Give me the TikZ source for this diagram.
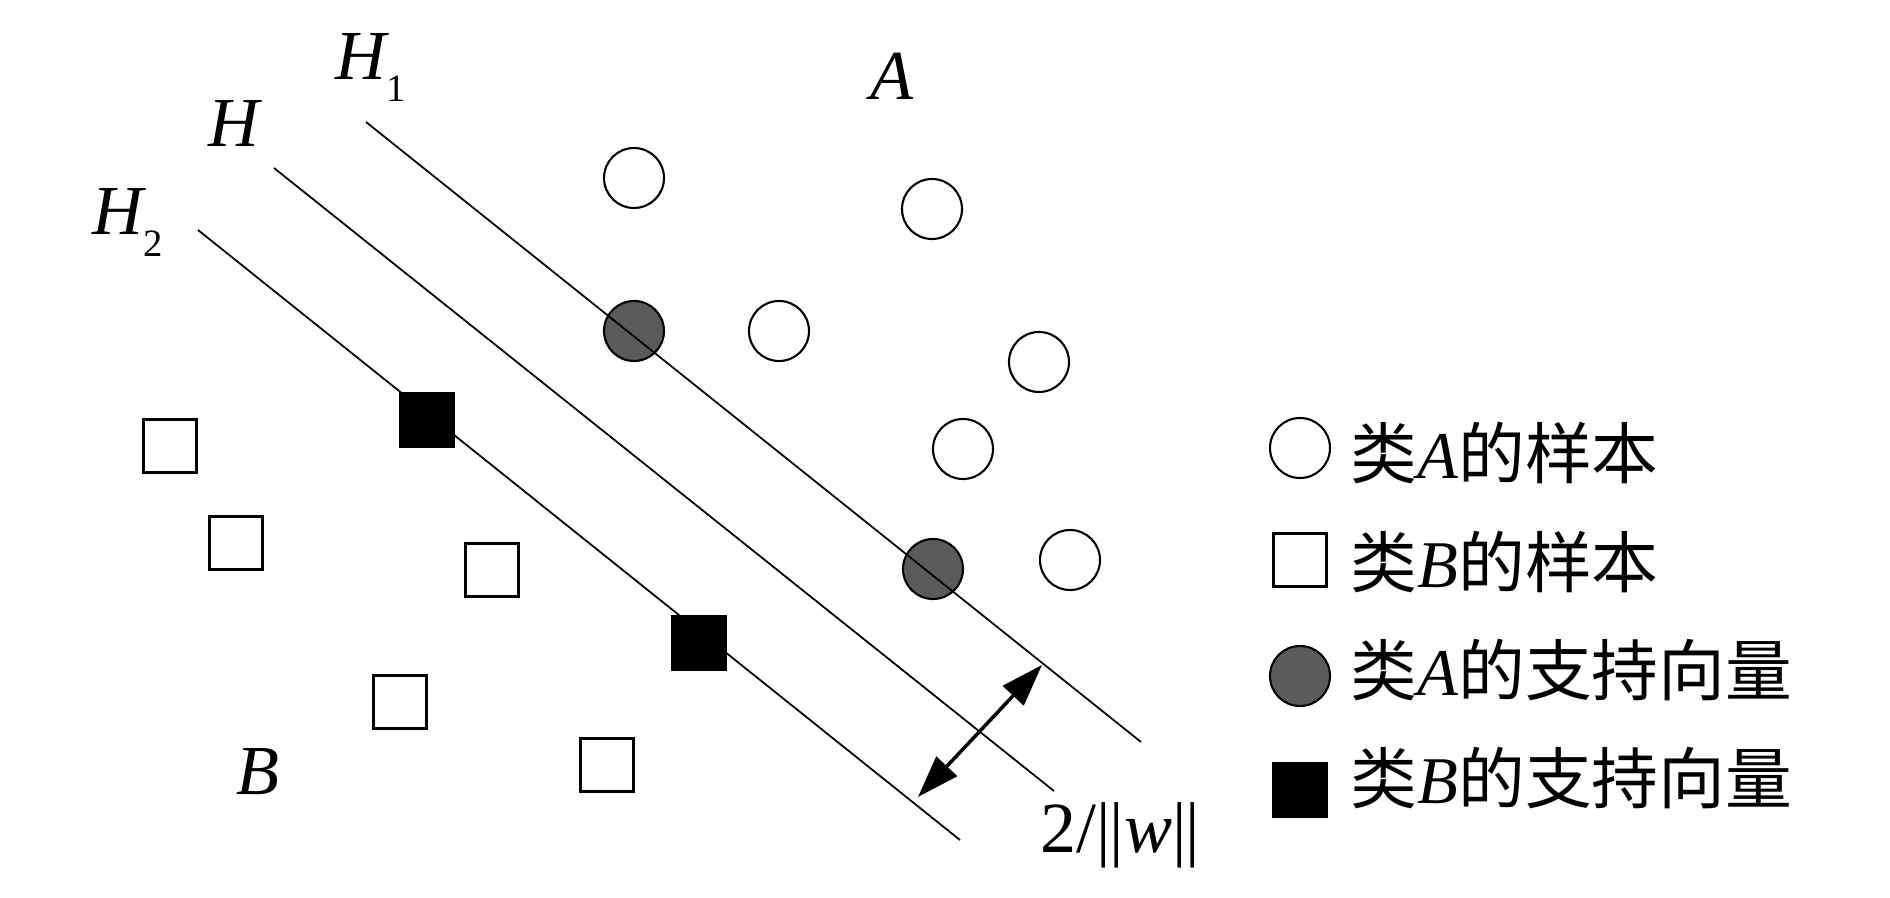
\documentclass[tikz,border=0pt]{standalone}
\usepackage{fontspec}
\setmainfont{Liberation Serif}
\newfontfamily\cjk{Noto Sans CJK SC}
\usetikzlibrary{arrows.meta}
\definecolor{svgray}{RGB}{90,90,90}
\newcommand\romit[1]{{\rmfamily\itshape #1}}
\newcommand\subdn[1]{\raisebox{-0.3em}{\upshape\fontsize{11}{12}\selectfont #1}}
\tikzset{
  samp/.style={circle, draw, line width=0.6pt, minimum size=0.60cm, inner sep=0pt, fill=white},
  sv/.style={samp, fill=svgray},
  sqr/.style={rectangle, draw, line width=0.6pt, minimum width=0.53cm, minimum height=0.53cm, inner sep=0pt, fill=white},
  sqsv/.style={sqr, fill=black},
  hyp/.style={line width=0.5pt},
  lab/.style={font=\fontsize{20}{24}\selectfont\itshape, inner sep=0pt, anchor=base west},
  leg/.style={font=\fontsize{19}{23}\selectfont\cjk, inner sep=0pt, anchor=base west},
  marg/.style={line width=1pt, {Triangle[length=12pt,width=8pt]}-{Triangle[length=12pt,width=8pt]}}
}
\begin{document}
\begin{tikzpicture}
\useasboundingbox (0,0) rectangle (18.90,-8.98);
% samples of class A
\node[samp] (a1) at (6.34,-1.78) {};
\node[samp] (a2) at (9.32,-2.09) {};
\node[samp] (a3) at (7.79,-3.31) {};
\node[samp] (a4) at (10.39,-3.62) {};
\node[samp] (a5) at (9.63,-4.49) {};
\node[samp] (a6) at (10.70,-5.60) {};
\node[sv] (sa1) at (6.34,-3.31) {};
\node[sv] (sa2) at (9.33,-5.69) {};
% samples of class B
\node[sqr] (b1) at (1.70,-4.46) {};
\node[sqr] (b2) at (2.36,-5.43) {};
\node[sqr] (b3) at (4.92,-5.70) {};
\node[sqr] (b4) at (4.00,-7.02) {};
\node[sqr] (b5) at (6.07,-7.65) {};
\node[sqsv] (sb1) at (4.27,-4.20) {};
\node[sqsv] (sb2) at (6.99,-6.43) {};
% hyperplanes
\coordinate (h1s) at (3.66,-1.22);
\coordinate (h1e) at (11.41,-7.42);
\coordinate (hs) at (2.74,-1.68);
\coordinate (he) at (10.54,-7.91);
\coordinate (h2s) at (1.98,-2.30);
\coordinate (h2e) at (9.60,-8.40);
\draw[hyp] (h1s) -- (h1e);
\draw[hyp] (hs) -- (he);
\draw[hyp] (h2s) -- (h2e);
% margin arrow
\coordinate (mu) at (10.42,-6.65);
\coordinate (ml) at (9.18,-7.97);
\draw[marg] (mu) -- (ml);
% labels
\node[lab] (lh1) at (3.35,-0.80) {H\subdn{1}};
\node[lab] (lh) at (2.08,-1.47) {H};
\node[lab] (lh2) at (0.92,-2.35) {H\subdn{2}};
\node[lab] (la) at (8.70,-1.00) {A};
\node[lab] (lb) at (2.36,-7.94) {B};
\node[lab, font=\fontsize{20.5}{24}\selectfont] (lw) at (10.40,-8.52) {2/|\kern-0.02em|\textit{w}|\kern-0.02em|};
% legend
\node[samp] (ka) at (13.00,-4.48) {};
\node[sqr] (kb) at (13.00,-5.60) {};
\node[sv] (ksa) at (13.00,-6.76) {};
\node[sqsv] (ksb) at (13.00,-7.90) {};
\node[leg] (ta) at (13.50,-4.78) {类\romit{A}的样本};
\node[leg] (tb) at (13.50,-5.87) {类\romit{B}的样本};
\node[leg] (tsa) at (13.50,-6.95) {类\romit{A}的支持向量};
\node[leg] (tsb) at (13.50,-8.03) {类\romit{B}的支持向量};
\end{tikzpicture}
\end{document}
